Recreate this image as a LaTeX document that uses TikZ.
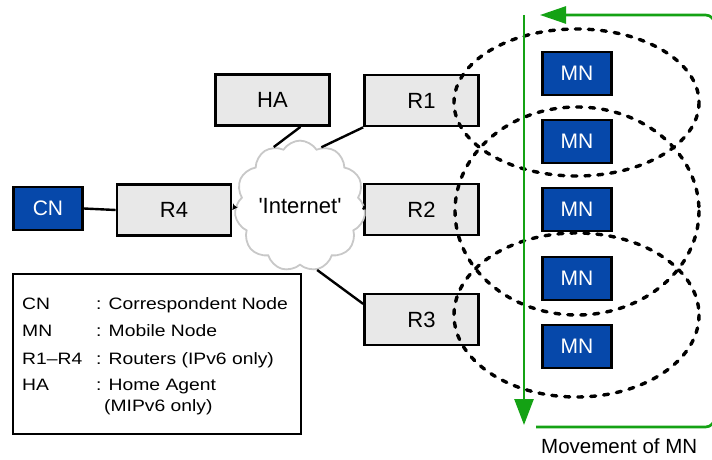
\documentclass[tikz,border=0pt]{standalone}
\usepackage{fontspec}
\setmainfont{Liberation Sans}
\newfontfamily\legendfont{Liberation Sans}[FakeStretch=1.17, Ligatures=TeX]
\usetikzlibrary{shapes.symbols,arrows.meta}

\definecolor{boxgray}{RGB}{232,232,232}
\definecolor{nodeblue}{RGB}{6,72,170}
\definecolor{cloudgray}{RGB}{200,200,200}
\definecolor{movegreen}{RGB}{20,162,20}

\tikzset{
  router/.style={draw=black, line width=2.7pt, fill=boxgray,
    minimum width=114pt, minimum height=51pt, inner sep=0pt,
    font=\fontsize{22}{26}\selectfont},
  host/.style={draw=black, line width=2.7pt, fill=nodeblue, text=white,
    minimum width=69pt, minimum height=43pt, inner sep=0pt,
    font=\fontsize{21}{25}\selectfont},
  link/.style={draw=black, line width=2.4pt},
  cell/.style={draw=black, line width=3.4pt, dash pattern=on 5pt off 8pt, line cap=round},
  move/.style={draw=movegreen, line width=2.7pt},
  legend/.style={anchor=base west, inner sep=0pt, font=\legendfont\fontsize{16.5}{19}\selectfont}
}

\begin{document}
\begin{tikzpicture}[x=1pt, y=-1pt]
\useasboundingbox (0,0) rectangle (712,460);

% routers, home agent and correspondent node
\node[router] (ha) at (272.5,100) {HA};
\node[router] (r1) at (421.5,100.5) {R1};
\node[router] (r2) at (421.5,209.5) {R2};
\node[router] (r3) at (421.5,319.5) {R3};
\node[router] (r4) at (174,210) {R4};
\node[host]   (cn) at (48,208.5) {CN};

% the Internet cloud
\node[cloud, cloud puffs=11, cloud puff arc=115, aspect=1, draw=cloudgray,
      line width=1.8pt, fill=white, minimum width=118pt, minimum height=118pt,
      inner sep=0pt, font=\fontsize{22}{26}\selectfont]
  (inet) at (300,206) {\textquotesingle Internet\textquotesingle};

% links
\draw[link] (cn.east) -- (r4.west);
\draw[link] ([xshift=28pt]ha.south) -- (inet.114);
\draw[link] (r1.south west) -- (inet.70);
\draw[link] (inet.east) -- (r2.west);
\draw[link] (inet.-75) -- (r3.165);
\draw[link, -{Stealth[length=6pt,width=6pt]}] (inet.west) -- (r4.east);

% radio cells of R1, R2, R3
\draw[cell] (576.5,102.5) ellipse [x radius=122.5, y radius=73.5];
\draw[cell] (577,211) ellipse [x radius=122, y radius=104];
\draw[cell] (576.5,315) ellipse [x radius=122.5, y radius=82];

% mobile node positions
\node[host] (mn1) at (577,73.5)  {MN};
\node[host] (mn2) at (577,141.5) {MN};
\node[host] (mn3) at (577,209.5) {MN};
\node[host] (mn4) at (577,278.5) {MN};
\node[host] (mn5) at (577,346.5) {MN};

% movement of the mobile node
\coordinate (mvtop) at (524,15);
\coordinate (mvbot) at (524,425);
\draw[move, -{Triangle[length=26pt,width=19pt]}] (mvtop) -- (mvbot);
\coordinate (brtop) at (540,15);
\coordinate (brbot) at (536,427);
\draw[move, rounded corners=9pt, -{Triangle[length=26pt,width=17pt]}]
  (714.5,45) -- (714.5,15) -- (brtop);
\draw[move, rounded corners=9pt] (714.5,400) -- (714.5,427) -- (brbot);
\node[anchor=base west, inner sep=0pt, font=\fontsize{20.5}{24}\selectfont]
  (mvlabel) at (541,453) {Movement of MN};

% legend
\node[draw=black, line width=2.7pt, minimum width=288pt, minimum height=160pt,
      inner sep=0pt] (legendbox) at (157,354) {};
\node[legend] (k1) at (22,309) {CN};
\node[legend] (v1) at (96,309) {: Correspondent Node};
\node[legend] (k2) at (22,336) {MN};
\node[legend] (v2) at (96,336) {: Mobile Node};
\node[legend] (k3) at (22,364) {R1–R4};
\node[legend] (v3) at (96,364) {: Routers (IPv6 only)};
\node[legend] (k4) at (22,390) {HA};
\node[legend] (v4) at (96,390) {: Home Agent};
\node[legend] (v5) at (104,411) {(MIPv6 only)};
\end{tikzpicture}
\end{document}
